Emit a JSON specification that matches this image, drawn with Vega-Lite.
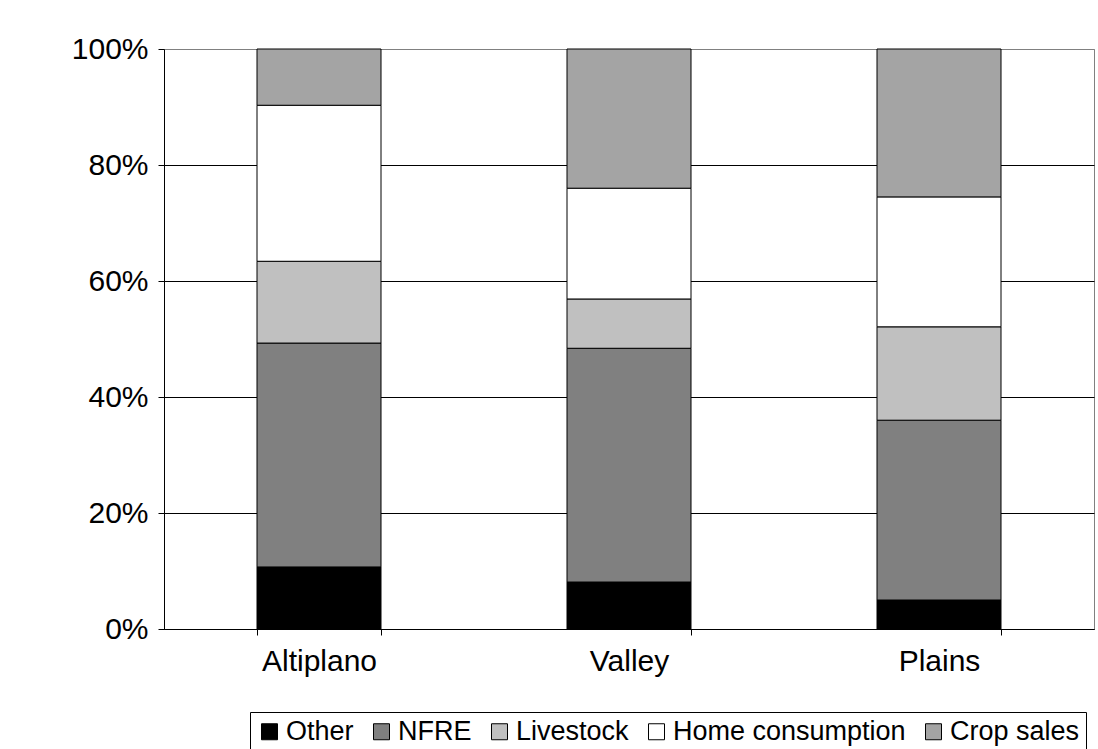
{
  "$schema": "https://vega.github.io/schema/vega-lite/v6.json",
  "width": 930,
  "height": 580,
  "autosize": {"type": "none"},
  "padding": {"left": 164, "top": 49, "right": 4, "bottom": 120},
  "background": "white",
  "data": {
    "values": [
      {"region": "Altiplano", "source": "Other", "share": 10.7, "k": 1},
      {"region": "Altiplano", "source": "NFRE", "share": 38.6, "k": 2},
      {"region": "Altiplano", "source": "Livestock", "share": 14.1, "k": 3},
      {"region": "Altiplano", "source": "Home consumption", "share": 26.9, "k": 4},
      {"region": "Altiplano", "source": "Crop sales", "share": 9.7, "k": 5},
      {"region": "Valley", "source": "Other", "share": 8.1, "k": 1},
      {"region": "Valley", "source": "NFRE", "share": 40.3, "k": 2},
      {"region": "Valley", "source": "Livestock", "share": 8.5, "k": 3},
      {"region": "Valley", "source": "Home consumption", "share": 19.1, "k": 4},
      {"region": "Valley", "source": "Crop sales", "share": 24.0, "k": 5},
      {"region": "Plains", "source": "Other", "share": 5.0, "k": 1},
      {"region": "Plains", "source": "NFRE", "share": 31.0, "k": 2},
      {"region": "Plains", "source": "Livestock", "share": 16.1, "k": 3},
      {"region": "Plains", "source": "Home consumption", "share": 22.4, "k": 4},
      {"region": "Plains", "source": "Crop sales", "share": 25.5, "k": 5}
    ]
  },
  "mark": {"type": "bar", "stroke": "black", "strokeWidth": 1},
  "encoding": {
    "x": {
      "field": "region",
      "type": "nominal",
      "sort": ["Altiplano", "Valley", "Plains"],
      "scale": {"paddingInner": 0.6, "paddingOuter": 0.3},
      "axis": {
        "title": null,
        "labelAngle": 0,
        "labelFont": "Liberation Sans",
        "labelFontSize": 30,
        "labelColor": "black",
        "labelPadding": 11,
        "tickBand": "extent",
        "tickColor": "black",
        "tickSize": 6,
        "domainColor": "black",
        "grid": false
      }
    },
    "y": {
      "field": "share",
      "type": "quantitative",
      "stack": "normalize",
      "scale": {"domain": [0, 1]},
      "axis": {
        "title": null,
        "values": [0, 0.2, 0.4, 0.6, 0.8, 1],
        "format": ".0%",
        "labelFont": "Liberation Sans",
        "labelFontSize": 30,
        "labelColor": "black",
        "labelPadding": 10,
        "tickColor": "black",
        "tickSize": 6,
        "domainColor": "black",
        "grid": true,
        "gridColor": {"condition": {"test": "datum.value == 1", "value": "#808080"}, "value": "black"},
        "gridOpacity": 1
      }
    },
    "color": {
      "field": "source",
      "type": "nominal",
      "sort": ["Other", "NFRE", "Livestock", "Home consumption", "Crop sales"],
      "scale": {
        "domain": ["Other", "NFRE", "Livestock", "Home consumption", "Crop sales"],
        "range": ["#000000", "#808080", "#c0c0c0", "#ffffff", "#a4a4a4"]
      },
      "legend": {
        "title": null,
        "orient": "none",
        "legendX": 86,
        "legendY": 663,
        "direction": "horizontal",
        "columns": 5,
        "symbolType": "square",
        "symbolSize": 256,
        "symbolStrokeColor": "black",
        "symbolStrokeWidth": 1,
        "symbolOpacity": 1,
        "labelFont": "Liberation Sans",
        "labelFontSize": 27,
        "labelColor": "black",
        "labelOffset": 3,
        "labelLimit": 400,
        "columnPadding": 14,
        "padding": 6,
        "strokeColor": "black",
        "fillColor": "white"
      }
    },
    "order": {"field": "k", "type": "quantitative"}
  },
  "config": {
    "view": {"stroke": "#808080", "strokeWidth": 1},
    "axis": {"domainWidth": 1, "tickWidth": 1, "gridWidth": 1}
  }
}
